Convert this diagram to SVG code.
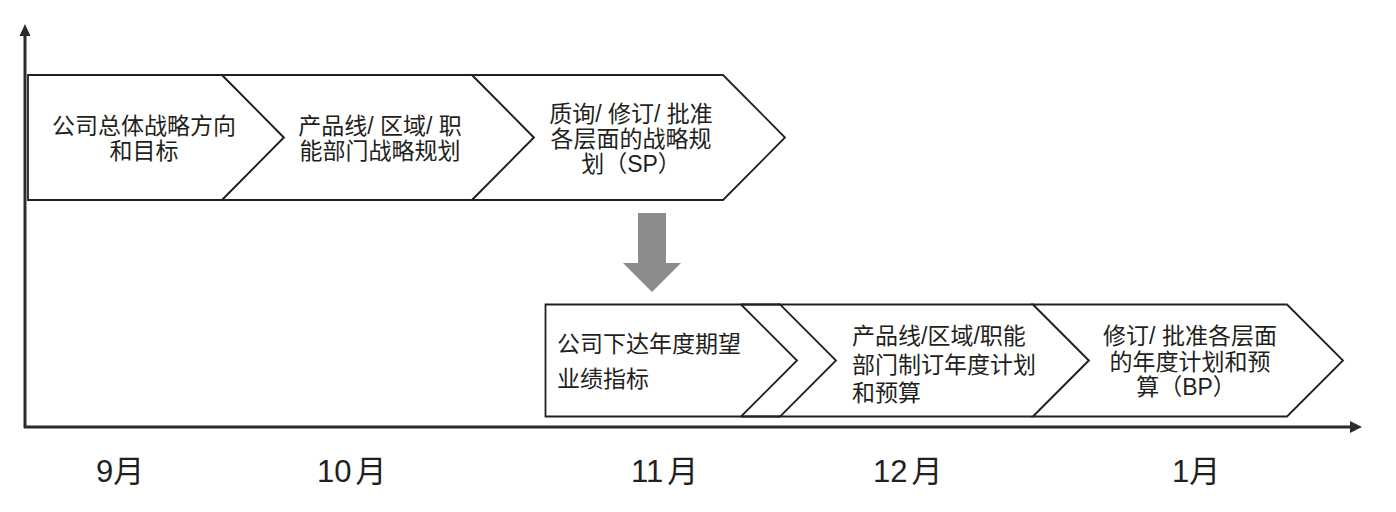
<svg xmlns="http://www.w3.org/2000/svg" width="1396" height="512" viewBox="0 0 1396 512">
<style>
.shape{fill:#ffffff;stroke:#231f20;stroke-width:1.8;stroke-linejoin:miter}
.t{font-family:"Liberation Sans","Noto Sans CJK SC",sans-serif;font-size:23px;fill:#231f20}
.m{font-family:"Liberation Sans","Noto Sans CJK SC",sans-serif;font-size:31px;fill:#231f20}
.axis{stroke:#2b2b2b;stroke-width:3;fill:none}
.edge{stroke:#231f20;stroke-width:2.6}
</style>
<rect width="1396" height="512" fill="#ffffff"/>
<g id="axes">
<line class="axis" x1="25" y1="428" x2="25" y2="34"/>
<polygon points="25,24 19.5,36 30.5,36" fill="#2b2b2b"/>
<line class="axis" x1="24" y1="427" x2="1352" y2="427"/>
<polygon points="1362,427 1350,421 1350,433" fill="#2b2b2b"/>
</g>
<g id="n1">
<polygon class="shape" points="28,75 222,75 284,137.5 222,200 28,200"/>
<text class="t" x="144" y="134" text-anchor="middle">公司总体战略方向</text>
<text class="t" x="144" y="159" text-anchor="middle">和目标</text>
</g>
<g id="n2">
<polygon class="shape" points="222,75 472,75 534,137.5 472,200 222,200 284,137.5"/>
<text class="t" x="380" y="134" text-anchor="middle">产品线/ 区域/ 职</text>
<text class="t" x="380" y="159" text-anchor="middle">能部门战略规划</text>
</g>
<g id="n3">
<polygon class="shape" points="472,75 723,75 785,137.5 723,200 472,200 534,137.5"/>
<text class="t" x="631" y="121.5" text-anchor="middle">质询/ 修订/ 批准</text>
<text class="t" x="631" y="147" text-anchor="middle">各层面的战略规</text>
<text class="t" x="631" y="171.5" text-anchor="middle">划（SP）</text>
</g>
<g id="connectors">
<polygon points="638,213 666,213 666,263 681,263 652,292 623,263 638,263" fill="#8c8c8c"/>
</g>
<g id="n4">
<polygon class="shape" points="545.5,304.5 741,304.5 797,360.5 741,416.5 545.5,416.5"/>
<text class="t" x="557" y="352">公司下达年度期望</text>
<text class="t" x="557" y="387">业绩指标</text>
</g>
<g id="n5">
<line class="edge" x1="741" y1="304.5" x2="780" y2="304.5"/>
<line class="edge" x1="741" y1="416.5" x2="780" y2="416.5"/>
<polygon class="shape" points="780,304.5 1033,304.5 1089,360.5 1033,416.5 780,416.5 836,360.5"/>
<text class="t" x="852" y="344">产品线/区域/职能</text>
<text class="t" x="852" y="372.5">部门制订年度计划</text>
<text class="t" x="852" y="401">和预算</text>
</g>
<g id="n6">
<polygon class="shape" points="1033,304.5 1287,304.5 1343,360.5 1287,416.5 1033,416.5 1089,360.5"/>
<text class="t" x="1190" y="344" text-anchor="middle">修订/ 批准各层面</text>
<text class="t" x="1190" y="370" text-anchor="middle">的年度计划和预</text>
<text class="t" x="1186" y="395" text-anchor="middle">算（BP）</text>
</g>
<g id="months">
<text class="m" x="96" y="482">9月</text>
<text class="m" x="317" y="482">10<tspan dx="4">月</tspan></text>
<text class="m" x="631" y="482">11<tspan dx="4">月</tspan></text>
<text class="m" x="873" y="482">12<tspan dx="4">月</tspan></text>
<text class="m" x="1172" y="482">1月</text>
</g>
</svg>
